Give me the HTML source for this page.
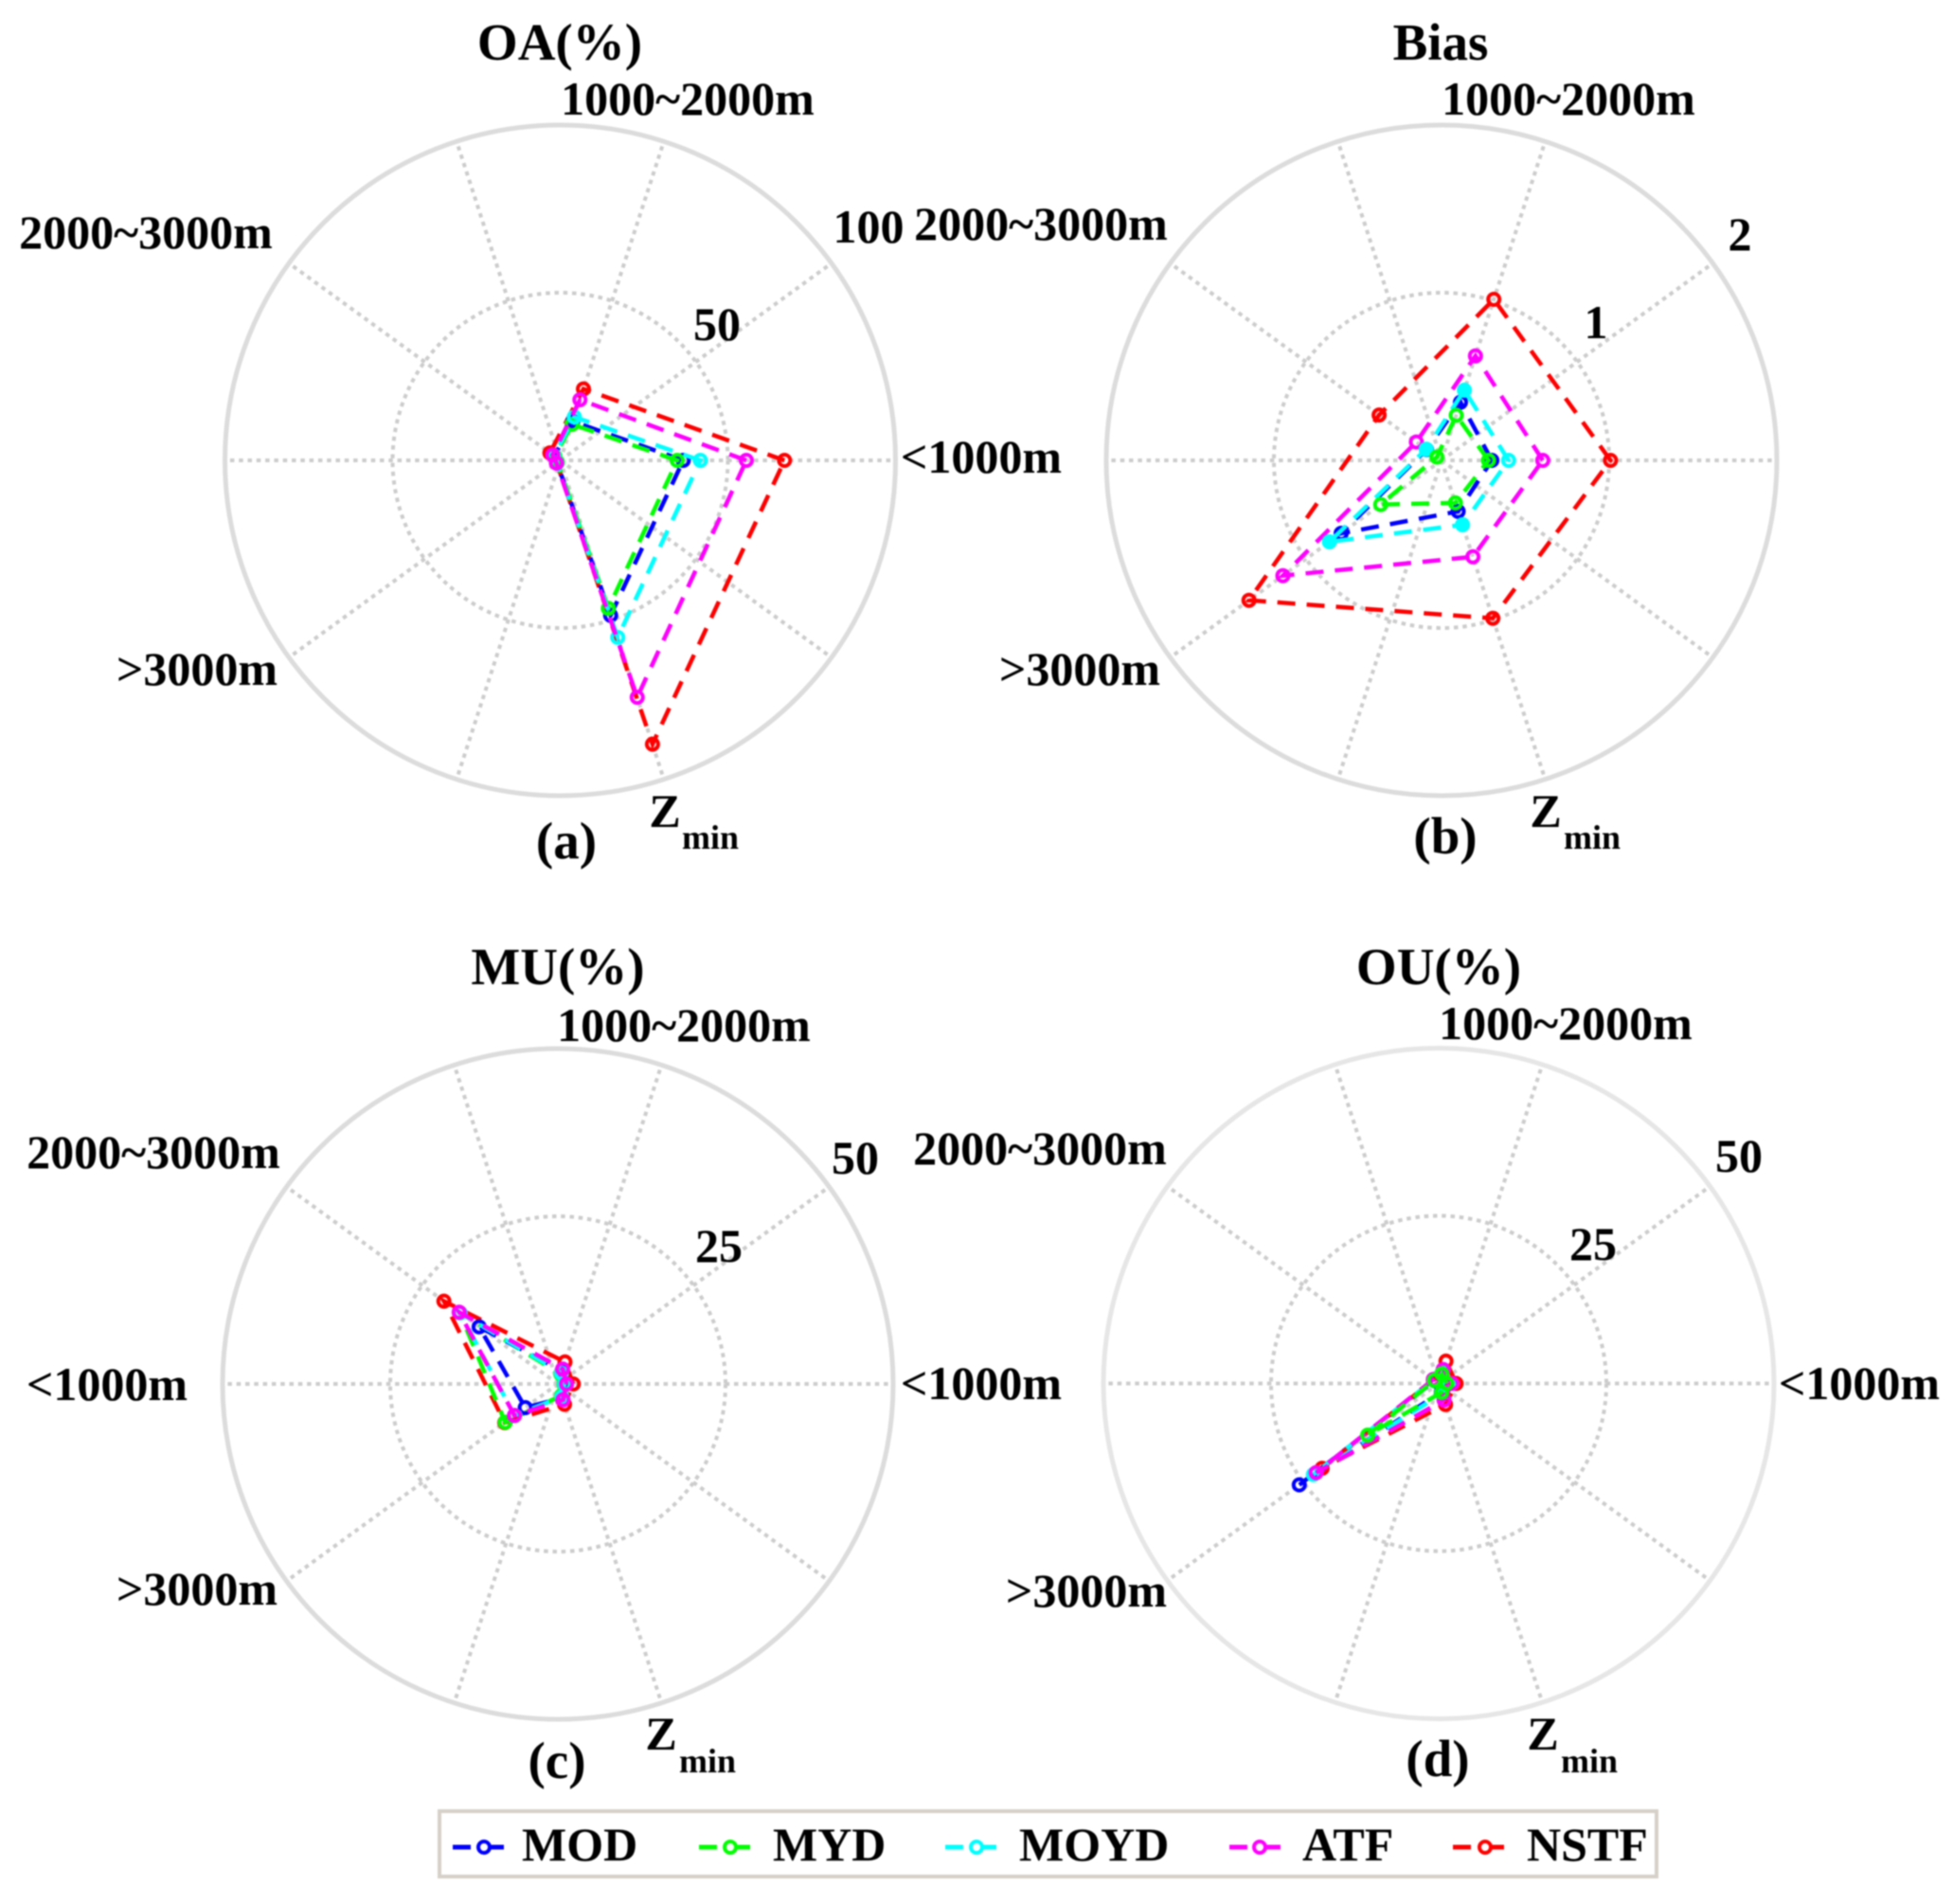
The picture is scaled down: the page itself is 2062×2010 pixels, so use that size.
<!DOCTYPE html>
<html>
<head>
<meta charset="utf-8">
<title>Radar charts</title>
<style>
html,body{margin:0;padding:0;background:#fff;}
#chart{display:block;width:2062px;height:2010px;filter:blur(0.8px);}
text{font-family:"Liberation Serif","DejaVu Serif",serif;font-weight:bold;fill:#000;text-anchor:middle;}
.lb{font-size:50px;}
.tt{font-size:55px;}
.sb{font-size:36px;}
.lg{font-size:50px;text-anchor:start;}
</style>
</head>
<body>
<svg id="chart" xmlns="http://www.w3.org/2000/svg" width="2062" height="2010" viewBox="0 0 2062 2010">
  <rect x="0" y="0" width="2062" height="2010" fill="#fff"/>
  <g id="grids"></g>
  <g id="series"></g>

  <g>
    <text class="tt" x="591" y="63">OA(%)</text>
    <text class="lb" x="726" y="121">1000~2000m</text>
    <text class="lb" x="154" y="262">2000~3000m</text>
    <text class="lb" x="1036" y="499">&lt;1000m</text>
    <text class="lb" x="208" y="723">&gt;3000m</text>
    <text class="lb" x="917" y="256">100</text>
    <text class="lb" x="757" y="359">50</text>
    <text class="lb" x="702" y="873">Z</text>
    <text class="sb" x="750" y="896">min</text>
    <text class="tt" x="598" y="906">(a)</text>
  </g>
  <g>
    <text class="tt" x="1521" y="63">Bias</text>
    <text class="lb" x="1656" y="121">1000~2000m</text>
    <text class="lb" x="1099" y="253">2000~3000m</text>
    <text class="lb" x="1140" y="723">&gt;3000m</text>
    <text class="lb" x="1837" y="264">2</text>
    <text class="lb" x="1685" y="357">1</text>
    <text class="lb" x="1632" y="873">Z</text>
    <text class="sb" x="1681" y="896">min</text>
    <text class="tt" x="1526" y="901">(b)</text>
  </g>
  <g>
    <text class="tt" x="589" y="1039">MU(%)</text>
    <text class="lb" x="722" y="1099">1000~2000m</text>
    <text class="lb" x="162" y="1233">2000~3000m</text>
    <text class="lb" x="113" y="1478">&lt;1000m</text>
    <text class="lb" x="1036" y="1477">&lt;1000m</text>
    <text class="lb" x="208" y="1694">&gt;3000m</text>
    <text class="lb" x="903" y="1239">50</text>
    <text class="lb" x="759" y="1332">25</text>
    <text class="lb" x="698" y="1847">Z</text>
    <text class="sb" x="747" y="1871">min</text>
    <text class="tt" x="588" y="1877">(c)</text>
  </g>
  <g>
    <text class="tt" x="1519" y="1039">OU(%)</text>
    <text class="lb" x="1653" y="1097">1000~2000m</text>
    <text class="lb" x="1098" y="1229">2000~3000m</text>
    <text class="lb" x="1963" y="1477">&lt;1000m</text>
    <text class="lb" x="1147" y="1696">&gt;3000m</text>
    <text class="lb" x="1836" y="1237">50</text>
    <text class="lb" x="1682" y="1330">25</text>
    <text class="lb" x="1629" y="1847">Z</text>
    <text class="sb" x="1678" y="1871">min</text>
    <text class="tt" x="1518" y="1875">(d)</text>
  </g>

  <g>
    <rect x="464" y="1912" width="1285" height="69" fill="#fff" stroke="#d6d0c8" stroke-width="4"/>
    <g>
      <line x1="478" y1="1950" x2="532" y2="1950" stroke="#0000ff" stroke-width="5" stroke-dasharray="19 16"/>
      <circle cx="511" cy="1950" r="6" fill="#fff" stroke="#0000ff" stroke-width="4"/>
      <text class="lg" x="551" y="1964">MOD</text>
    </g>
    <g>
      <line x1="738" y1="1950" x2="793" y2="1950" stroke="#00ff00" stroke-width="5" stroke-dasharray="19 16"/>
      <circle cx="771" cy="1950" r="6" fill="#fff" stroke="#00ff00" stroke-width="4"/>
      <text class="lg" x="816" y="1964">MYD</text>
    </g>
    <g>
      <line x1="998" y1="1950" x2="1053" y2="1950" stroke="#00ffff" stroke-width="5" stroke-dasharray="19 16"/>
      <circle cx="1031" cy="1950" r="6" fill="#fff" stroke="#00ffff" stroke-width="4"/>
      <text class="lg" x="1076" y="1964">MOYD</text>
    </g>
    <g>
      <line x1="1298" y1="1950" x2="1352" y2="1950" stroke="#ff00ff" stroke-width="5" stroke-dasharray="19 16"/>
      <circle cx="1330" cy="1950" r="6" fill="#fff" stroke="#ff00ff" stroke-width="4"/>
      <text class="lg" x="1375" y="1964">ATF</text>
    </g>
    <g>
      <line x1="1534" y1="1950" x2="1589" y2="1950" stroke="#ff0000" stroke-width="5" stroke-dasharray="19 16"/>
      <circle cx="1568" cy="1950" r="6" fill="#fff" stroke="#ff0000" stroke-width="4"/>
      <text class="lg" x="1612" y="1964">NSTF</text>
    </g>
  </g>
</svg>
<script>
// Categories, in angular order from 0 degrees counter-clockwise
const categories = ['<1000m', '1000~2000m', '2000~3000m', '>3000m', 'Zmin'];

// Panel (a) OA(%)
const oaMOD  = [36.7, 12.2, 2.2, 1.2, 48.6];
const oaMYD  = [34.9, 11.3, 2.0, 1.0, 46.4];
const oaMOYD = [41.8, 13.6, 2.4, 1.3, 55.5];
const oaATF  = [55.5, 19.0, 2.8, 1.4, 74.3];
const oaNSTF = [66.9, 22.4, 3.8, 1.3, 89.0];

// Panel (b) Bias
const biasMOD  = [0.30, 0.365, 0.11, 0.74, 0.32];
const biasMYD  = [0.28, 0.283, 0.034, 0.448, 0.267];
const biasMOYD = [0.40, 0.44, 0.113, 0.827, 0.404];
const biasATF  = [0.604, 0.655, 0.186, 1.17, 0.605];
const biasNSTF = [1.008, 1.01, 0.46, 1.42, 0.99];

// Panel (c) MU(%)
const muMOD  = [1.1, 2.0, 14.5, 6.0, 2.2];
const muMYD  = [0.9, 1.5, 18.1, 9.7, 1.8];
const muMOYD = [1.0, 1.7, 18.0, 8.0, 2.0];
const muATF  = [1.3, 2.35, 18.2, 8.0, 2.5];
const muNSTF = [2.3, 3.45, 21.0, 9.8, 3.2];

// Panel (d) OU(%)
const ouMOD  = [1.2, 1.4, 0.7, 25.7, 1.3];
const ouMYD  = [1.2, 1.5, 0.8, 13.1, 1.4];
const ouMOYD = [1.4, 1.8, 0.9, 23.1, 1.6];
const ouATF  = [2.0, 2.2, 1.0, 22.6, 2.6];
const ouNSTF = [2.6, 3.5, 0.9, 21.5, 3.3];

// Radial axis maxima
const axisMaxA = 100;
const axisMaxB = 2;
const axisMaxC = 50;
const axisMaxD = 50;

const svgNS = 'http://www.w3.org/2000/svg';
const seriesColor = {MOD: '#0000ff', MYD: '#00ff00', MOYD: '#00ffff', ATF: '#ff00ff', NSTF: '#ff0000'};

const panels = [
  {id: 'a', cx: 591.5, cy: 486, ring: '#dcdcdc', max: axisMaxA, data: {MOD: oaMOD, MYD: oaMYD, MOYD: oaMOYD, ATF: oaATF, NSTF: oaNSTF}, order: ['NSTF', 'MOD', 'MYD', 'MOYD', 'ATF'], filled: []},
  {id: 'b', cx: 1522, cy: 486, ring: '#dcdcdc', max: axisMaxB, data: {MOD: biasMOD, MYD: biasMYD, MOYD: biasMOYD, ATF: biasATF, NSTF: biasNSTF}, order: ['NSTF', 'ATF', 'MOD', 'MOYD', 'MYD'], filled: ['MOYD']},
  {id: 'c', cx: 589, cy: 1461, ring: '#dcdcdc', max: axisMaxC, data: {MOD: muMOD, MYD: muMYD, MOYD: muMOYD, ATF: muATF, NSTF: muNSTF}, order: ['NSTF', 'MYD', 'MOD', 'MOYD', 'ATF'], filled: []},
  {id: 'd', cx: 1519, cy: 1460.5, ring: '#e6e6e6', max: axisMaxD, data: {MOD: ouMOD, MYD: ouMYD, MOYD: ouMOYD, ATF: ouATF, NSTF: ouNSTF}, order: ['MOD', 'NSTF', 'MOYD', 'ATF', 'MYD'], filled: []}
];

const outerRadius = 354;

function radius(panel, value) {
  return value / panel.max * outerRadius;
}
function angle(index) {
  return index * 72 * Math.PI / 180;
}
function pointFor(panel, index, value) {
  const r = radius(panel, value);
  return [panel.cx + r * Math.cos(angle(index)), panel.cy - r * Math.sin(angle(index))];
}
function make(tag, attrs, parent) {
  const el = document.createElementNS(svgNS, tag);
  Object.keys(attrs).forEach(function (k) { el.setAttribute(k, attrs[k]); });
  parent.appendChild(el);
  return el;
}

const gridRoot = document.getElementById('grids');
const seriesRoot = document.getElementById('series');

panels.forEach(function (panel) {
  const grid = make('g', {}, gridRoot);
  
  

  for (let s = 0; s < 10; s++) {
    const a = s * 36 * Math.PI / 180;
    const spoke = make('line', {
      x1: panel.cx, y1: panel.cy,
      x2: panel.cx + (outerRadius - 2) * Math.cos(a),
      y2: panel.cy - (outerRadius - 2) * Math.sin(a),
      stroke: '#cccccc', 'stroke-width': 4, 'stroke-dasharray': '4.5 4.8'
    }, grid);
    
    
  }

  const inner = make('circle', {
    cx: panel.cx, cy: panel.cy, r: radius(panel, panel.max / 2), fill: 'none',
    stroke: '#cccccc', 'stroke-width': 4, 'stroke-dasharray': '4.5 4.8'
  }, grid);
  
  

  const outer = make('circle', {
    cx: panel.cx, cy: panel.cy, r: outerRadius, fill: 'none',
    stroke: panel.ring, 'stroke-width': 5
  }, grid);
  
  

  panel.order.forEach(function (key) {
    const values = panel.data[key];
    const color = seriesColor[key];
    const group = make('g', {}, seriesRoot);
    
    

    const pts = values.map(function (v, i) { return pointFor(panel, i, v); });
    const d = pts.map(function (p, i) {
      return (i === 0 ? 'M' : 'L') + p[0].toFixed(1) + ' ' + p[1].toFixed(1);
    }).join(' ') + ' Z';
    const line = make('path', {
      d: d, fill: 'none', stroke: color, 'stroke-width': 4.5, 'stroke-dasharray': '19 12'
    }, group);
    
    

    pts.forEach(function (p, i) {
      const filled = panel.filled.indexOf(key) >= 0 && i !== 0;
      const marker = make('circle', {
        cx: p[0].toFixed(1), cy: p[1].toFixed(1), r: 6,
        fill: filled ? color : 'none', stroke: color, 'stroke-width': 4
      }, group);
      
      
    });
  });
});
</script>
</body>
</html>
